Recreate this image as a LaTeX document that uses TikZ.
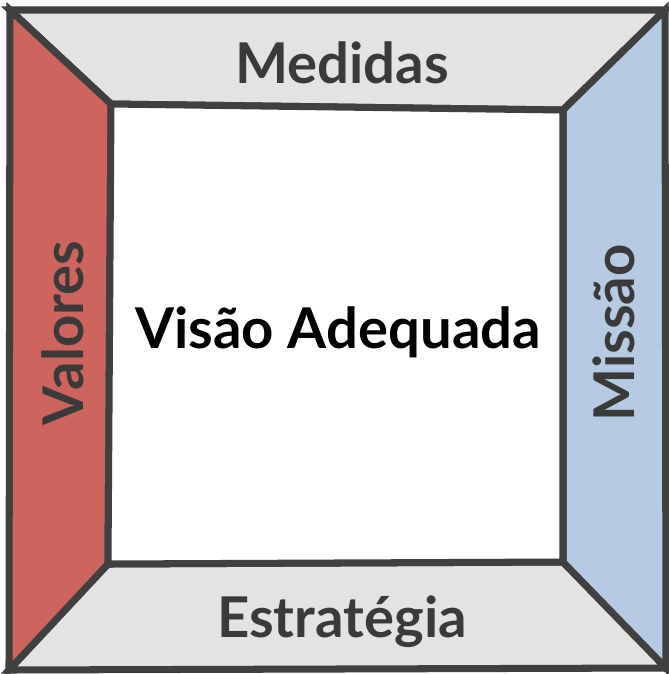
\documentclass[tikz,border=0pt]{standalone}
\usepackage{fontspec}
\setmainfont{Lato}
\usetikzlibrary{calc}
\definecolor{cred}{RGB}{205, 100, 94}
\definecolor{cbluelight}{RGB}{182, 203, 227}
\definecolor{cgraylight}{RGB}{227, 227, 227}
\definecolor{cline}{RGB}{64, 64, 64}
\definecolor{ctext}{RGB}{58, 58, 58}
\tikzset{
	side/.style={%
			draw=cline,%
			line width=4pt,%
			line join=miter},%
	label/.style={%
			font={\fontsize{32}{32}\selectfont\bfseries},%
			text=ctext},%
	title/.style={%
			font={\fontsize{32}{32}\selectfont\bfseries},%
			text=black},%
}
\begin{document}
\begin{tikzpicture}[x=0.02cm, y=-0.02cm]%
	\useasboundingbox (0,0) rectangle (669,674);

	% outer and inner corners
	\coordinate (otl) at (10,10);
	\coordinate (otr) at (665,10);
	\coordinate (obr) at (666,668);
	\coordinate (obl) at (9,670);
	\coordinate (itl) at (111,104);
	\coordinate (itr) at (563,110);
	\coordinate (ibr) at (563,562);
	\coordinate (ibl) at (108,564);

	\filldraw[side, fill=cgraylight] (otl) -- (otr) -- (itr) -- (itl) -- cycle;
	\filldraw[side, fill=cgraylight] (obl) -- (obr) -- (ibr) -- (ibl) -- cycle;
	\filldraw[side, fill=cred] (otl) -- (itl) -- (ibl) -- (obl) -- cycle;
	\filldraw[side, fill=cbluelight] (otr) -- (obr) -- (ibr) -- (itr) -- cycle;
	\filldraw[side, fill=white] (itl) -- (itr) -- (ibr) -- (ibl) -- cycle;

	\node[label] (med) at (342,63) {Medidas};
	\node[label] (est) at (342,622) {Estratégia};
	\node[label, rotate=90] (val) at (63,333) {Valores};
	\node[label, rotate=90] (mis) at (614,333) {Missão};
	\node[title] (vis) at (338,332) {Visão Adequada};
\end{tikzpicture}
\end{document}
